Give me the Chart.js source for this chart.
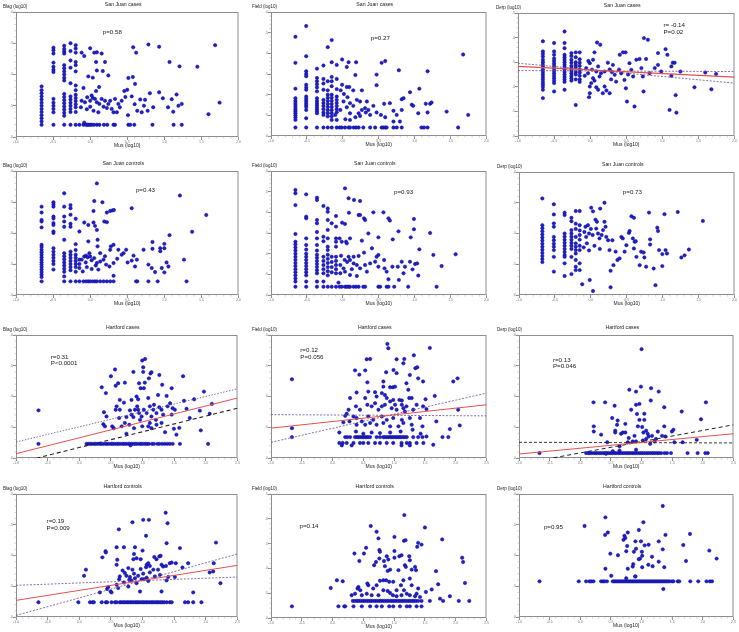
<!DOCTYPE html>
<html>
<head>
<meta charset="utf-8">
<script src="https://cdn.jsdelivr.net/npm/chart.js@4.4.0/dist/chart.umd.min.js"></script>
<style>
  body { margin: 0; background: #fff; width: 739px; height: 632px; position: relative; overflow: hidden; }
  canvas { position: absolute; }
</style>
</head>
<body>
<script>
// values are in tick units: x 0..nx, y 0..ny
// cols: [x, y, y, ...]  rows: [y, x, x, ...]  pts: x, y, x, y ...

// San Juan cases - Blag
const p1Cols = [
  [0.69, 0.39,0.5,0.6,0.7,0.8,0.9,1.0,1.1,1.2,1.3,1.4,1.5,1.62],
  [1.01, 2.86,2.78,2.67,2.38,2.25,2.15,2.08,1.22,1.1,1.0,0.9,0.79,0.39],
  [1.30, 2.92,2.82,2.74,2.67,2.30,2.2,2.1,2.0,1.9,1.81,1.38,1.28,1.18,1.08,0.98,0.88,0.78,0.68,0.39],
  [1.47, 3.0,2.75,2.45,2.22,1.72,1.3,1.2,1.1,1.0,0.9,0.8,0.39],
  [1.61, 2.94,2.83,2.7,2.4,2.3,2.1,1.65,1.5,1.35,1.25,1.15,1.05,0.95,0.8,0.39]
];
const p1Rows = [[0.39, 1.71,1.82,1.89,1.93,1.95,2.00,2.04,2.10,2.18,2.25,2.37,2.46,2.63,2.67,3.03,3.08,3.19,3.68,4.25,4.47]];
const p1Pts = [1.77,2.70, 1.84,2.59, 2.0,2.84, 2.11,2.70, 2.18,2.71, 2.31,2.67, 2.16,2.40, 2.18,2.13, 2.34,2.11, 2.40,2.40, 2.49,1.97, 1.95,1.94, 2.07,1.90, 1.82,1.57, 2.24,1.60,
  3.16,2.87, 3.24,2.70, 3.57,2.96, 3.86,2.89, 4.14,2.40, 4.41,2.26, 4.89,2.25, 5.37,2.94, 5.49,1.10, 5.19,0.73, 3.03,1.89, 3.15,1.92, 3.21,1.70, 2.92,1.47, 3.0,1.51,
  3.35,1.20, 3.48,1.19, 3.61,1.40, 3.70,0.95, 3.86,1.43, 3.96,1.24, 4.10,0.95, 4.20,1.21, 4.33,1.36, 4.38,1.00, 4.47,1.06, 4.24,0.81, 3.39,0.79, 3.27,0.84, 3.55,0.84, 3.02,0.70,
  1.77,1.16, 1.86,1.11, 1.92,1.27, 2.0,1.16, 2.07,1.25, 2.13,1.22, 2.18,1.11, 2.25,1.06, 2.31,1.22, 2.40,1.16, 2.49,1.06, 2.54,1.16, 2.67,1.22, 2.76,1.06, 2.85,1.16, 2.63,0.79, 2.72,0.79,
  1.91,0.89, 2.0,0.97, 2.09,0.84, 2.22,0.79, 1.84,0.46, 1.75,0.95, 2.36,0.97, 2.45,0.93, 2.16,1.47, 2.04,1.33, 3.12,1.30, 3.20,1.05, 2.95,1.28, 3.45,1.0, 2.58,0.9, 2.80,0.95];

// San Juan cases - Field
const p2Cols = [
  [0.68, 4.80,3.54,2.29,1.83,1.7,1.6,1.5,1.4,1.3,1.2,1.1,1.0,0.9,0.78,0.41],
  [0.98, 5.32,3.86,3.13,3.0,2.89,2.48,2.35,2.24,1.91,1.8,1.7,1.6,1.5,1.4,1.26,0.86,0.41],
  [1.28, 3.26,2.81,2.65,2.5,2.35,2.16,1.83,1.7,1.6,1.5,1.4,1.3,1.2,1.1,0.41],
  [1.46, 3.41,2.76,2.54,2.24,1.75,1.6,1.45,1.3,1.14,1.02,0.41],
  [1.58, 4.30,2.65,2.21,2.0,1.85,1.7,1.55,1.4,1.25,1.1,0.95,0.41],
  [1.69, 4.64,3.57,2.86,2.65,2.41,2.0,1.85,1.7,1.55,1.4,1.25,1.1,0.95,0.78,0.41],
  [1.83, 3.44,2.76,2.27,1.91,1.75,1.6,1.45,1.3,1.15,0.78,0.41]
];
const p2Rows = [[0.41, 1.91,1.97,2.06,2.16,2.20,2.30,2.37,2.44,2.57,2.76,2.90,3.08,3.13,3.18,3.22,3.41,3.50,3.64,4.19,4.26,4.36,5.21]];
const p2Pts = [1.98,3.70, 2.11,3.34, 2.16,3.57, 2.37,3.57, 2.35,2.95, 1.98,2.48, 2.11,2.37, 2.18,2.37, 1.94,2.21, 2.29,2.21, 2.53,2.21, 2.03,2.03, 2.13,1.88, 2.02,1.67, 2.20,1.59, 2.29,1.46, 2.11,1.39,
  2.39,1.75, 2.48,1.67, 2.67,1.67, 2.62,1.35, 2.71,1.26, 2.85,1.46, 2.94,1.14, 3.06,1.02, 3.15,1.56, 3.31,1.59, 3.41,1.22, 3.50,1.02, 3.64,1.26, 2.94,2.97, 2.94,2.46, 3.08,3.54, 3.18,3.63,
  3.56,3.18, 3.64,1.78, 3.69,1.83, 3.87,2.12, 3.92,1.51, 3.96,1.46, 4.13,2.29, 4.10,1.10, 4.31,1.56, 4.36,3.13, 4.36,1.14, 4.43,1.56, 4.47,1.62, 4.89,1.18, 5.35,3.94, 5.49,1.02,
  2.76,1.02, 2.53,1.26, 1.93,1.26, 2.20,1.10, 2.44,1.10, 1.79,1.02, 2.07,0.81, 2.20,0.78, 2.35,0.91, 3.18,0.91, 3.41,0.70, 3.59,0.70, 2.48,0.97, 2.64,1.14];

// San Juan cases - Derp
const p3Cols = [
  [0.69, 3.85,3.44,3.34,3.23,3.10,3.0,2.9,2.8,2.7,2.6,2.5,2.4,2.3,2.2,2.1,2.0,1.88,1.54],
  [1.0, 3.78,3.44,3.3,3.15,3.05,2.95,2.85,2.75,2.65,2.55,2.45,2.35,2.25,2.15,1.81],
  [1.29, 4.25,3.78,3.57,3.30,3.2,3.1,3.0,2.9,2.8,2.7,2.6,2.5,2.4,2.3,2.2,1.88],
  [1.48, 3.37,3.25,3.1,2.98,2.85,2.75,2.65,2.55,2.45,2.35,2.25],
  [1.60, 3.4,3.2,3.0,2.9,2.8,2.6,2.5,2.3,1.26],
  [1.71, 3.4,3.12,2.98,2.85,2.7,2.58,2.45,2.3,2.2]
];
const p3Rows = [];
const p3Pts = [2.19,3.80, 2.28,3.71, 2.12,3.40, 2.08,3.10, 1.99,2.96, 1.89,2.76, 1.94,2.55, 1.99,2.01, 2.03,2.15, 2.08,2.35, 2.17,2.62, 2.22,2.83, 2.26,2.42, 2.40,2.62, 2.49,2.98, 2.54,2.71,
  2.63,2.89, 2.68,2.49, 2.72,2.21, 2.35,1.74, 2.45,1.85, 1.99,1.74, 1.97,1.58, 2.17,1.98, 2.22,1.88, 2.40,2.01, 2.54,1.74, 2.58,2.30, 2.82,3.30, 2.91,3.40, 2.98,3.40, 2.86,2.55,
  2.95,2.28, 2.99,1.94, 3.02,1.40, 3.09,2.96, 3.14,2.69, 3.19,2.42, 3.23,1.20, 3.28,3.10, 3.37,3.13, 3.42,2.76, 3.46,2.42, 3.48,1.81, 3.49,3.98, 3.60,3.91, 3.55,3.13, 3.65,2.55,
  3.79,2.76, 3.88,3.37, 3.88,2.89, 3.97,2.62, 4.09,3.53, 4.14,3.30, 4.25,2.83, 4.29,2.98, 4.34,2.98, 4.25,2.45, 4.37,1.66, 4.20,1.06, 4.39,0.95, 4.50,2.62, 4.89,1.98, 5.19,2.58,
  5.36,1.90, 5.49,2.52, 1.85,2.45, 2.05,2.70, 2.30,2.55, 2.12,2.25, 1.95,3.05, 2.60,2.60, 2.80,2.70, 3.05,2.50];
const p3Fit = [0, 2.83, 6, 2.39];
const p3Ci1 = [0, 2.96, 6, 2.15];
const p3Ci2 = [0, 2.66, 6, 2.62];

// San Juan controls - Blag
const p4Cols = [
  [0.69, 2.85,2.66,2.42,2.37,2.18,1.62,1.55,1.46,1.38,1.3,1.22,1.14,1.06,0.98,0.9,0.82,0.74,0.66,0.58,0.44],
  [1.01, 2.99,2.92,2.85,2.53,2.47,2.32,2.26,2.05,2.0,1.51,1.4,1.3,1.2,1.1,1.0,0.82],
  [1.30, 3.28,2.85,2.53,2.37,2.2,1.78,1.35,1.25,1.15,1.05,0.95,0.85,0.75,0.6,0.44],
  [1.47, 2.9,2.8,2.59,2.3,2.2,1.4,1.3,1.2,1.1,1.0,0.9,0.8,0.44],
  [1.61, 2.46,1.64,1.45,1.3,1.2,1.1,1.0,0.9,0.75,0.44],
  [1.71, 2.05,1.14,1.0,0.87,0.44]
];
const p4Rows = [[0.44, 1.82,1.89,1.95,2.0,2.07,2.13,2.18,2.27,2.36,2.45,2.54,2.63,3.24,3.27,3.57,3.82,4.60]];
const p4Pts = [2.18,3.60, 2.11,3.03, 2.33,2.99, 2.09,2.71, 1.84,2.34, 1.95,2.26, 2.09,2.34, 2.13,2.23, 2.18,2.10, 1.95,1.73, 2.2,1.78, 2.2,1.57, 2.38,2.37, 2.45,2.35, 2.45,2.66, 2.54,2.71,
  2.60,2.73, 2.64,2.74, 3.12,2.80, 2.56,1.57, 2.63,1.62, 2.54,1.46, 2.76,1.46, 2.85,1.30, 2.90,1.35, 2.97,1.46, 3.17,1.27, 3.26,1.14, 3.44,1.46, 3.57,0.98, 3.66,0.87, 3.68,1.49,
  3.68,1.71, 3.75,0.74, 3.89,1.51, 3.89,1.41, 3.93,0.87, 4.0,1.65, 4.0,1.51, 4.06,1.05, 4.11,0.92, 4.0,0.73, 4.14,1.93, 4.42,3.21, 4.53,1.14, 4.75,2.04, 5.13,2.58,
  1.77,1.14, 1.84,1.24, 1.89,1.27, 1.93,1.22, 2.0,1.24, 2.04,1.12, 2.11,1.19, 2.18,1.03, 2.27,1.08, 2.36,1.14, 2.43,0.98, 2.52,0.92, 2.63,1.03, 2.73,1.17, 3.01,1.05, 3.12,1.11,
  3.21,0.92, 1.91,0.90, 2.04,0.84, 2.22,0.82, 2.63,0.62, 1.80,0.76, 2.27,1.35, 1.88,1.05, 2.15,0.95, 2.40,1.25, 1.98,1.35];

// San Juan controls - Field
const p5Cols = [
  [0.68, 5.08,4.92,4.35,2.95,2.58,2.45,2.3,2.15,2.0,1.85,1.7,1.55,1.4,1.25,1.1,0.95,0.8,0.65,0.4],
  [0.98, 4.87,3.79,3.71,2.74,2.42,2.2,2.0,1.85,1.7,1.55,1.4,1.25,1.1,0.95,0.65,0.4],
  [1.28, 4.71,4.6,3.63,3.47,3.05,2.74,2.42,2.15,1.95,1.8,1.65,1.5,1.35,1.2,1.05,0.65,0.4],
  [1.46, 4.31,2.82,2.6,1.85,1.65,1.45,1.25,1.05,0.65,0.4],
  [1.58, 4.19,4.03,3.63,3.15,2.74,2.34,2.18,1.95,1.75,1.55,1.35,1.15,0.95,0.4],
  [1.69, 3.47,1.85,1.6,1.35,1.1,0.4],
  [1.81, 3.82,3.31,2.74,2.58,2.34,1.85,1.65,1.45,1.25,1.05,0.4]
];
const p5Rows = [[0.4, 1.91,1.97,2.06,2.11,2.16,2.20,2.30,2.37,2.44,2.57,2.62,2.99,3.04,3.22,3.27,3.43,3.82,4.61]];
const p5Pts = [2.06,5.16, 2.16,4.68, 2.31,4.60, 2.48,4.55, 2.17,3.98, 2.44,3.87, 2.48,3.87, 2.59,3.71, 2.62,3.63, 2.85,4.0, 3.13,4.0, 3.27,3.71, 3.31,3.60, 1.98,3.50, 2.06,3.44, 1.91,2.74,
  1.97,2.58, 2.09,2.58, 2.20,2.74, 2.11,2.50, 2.53,2.63, 2.71,2.98, 2.99,2.79, 3.39,2.69, 3.55,3.08, 3.89,2.79, 3.98,3.18, 3.98,3.68, 4.43,3.0, 2.81,2.26, 2.99,1.94, 2.94,1.85,
  3.15,1.69, 2.59,2.05, 2.44,1.89, 2.30,1.85, 2.16,1.85, 2.20,1.69, 2.30,1.53, 2.39,1.45, 2.48,1.29, 2.62,1.45, 2.67,1.13, 2.76,1.53, 2.90,1.61, 2.99,1.37, 3.16,1.29, 3.22,1.13,
  3.27,0.76, 3.38,1.37, 3.53,1.37, 3.64,1.61, 3.69,1.05, 3.73,1.37, 3.87,1.61, 3.94,1.24, 4.01,1.50, 4.07,1.53, 4.10,0.94, 4.13,2.21, 4.52,1.94, 4.75,1.40, 5.14,1.97, 3.56,0.73,
  1.93,1.45, 2.02,1.29, 1.93,1.05, 2.06,1.13, 2.20,0.97, 1.88,0.60, 2.39,0.92, 2.05,1.70, 2.25,1.25, 1.95,1.90, 2.12,1.60];

// San Juan controls - Derp
const p6Cols = [
  [0.65, 3.14,2.27,2.17,2.07,1.97,1.87,1.77,1.67,1.57,1.47,1.37,1.27,1.17,1.07],
  [0.97, 2.95,2.62,2.33,2.22,1.89,1.78,1.67,1.57,1.46,1.24,0.76],
  [1.27, 2.68,2.6,2.0,1.9,1.8,1.7,1.6,1.5,1.4,1.3,1.24,1.03,0.62],
  [1.46, 2.51,2.4,2.11,2.0,1.9,1.8,1.7,1.6,1.5,1.24,0.68],
  [1.58, 2.73,2.32,2.15,1.89,1.68,1.57,1.46,1.35,1.14,0.92,0.81],
  [1.69, 2.73,2.27,2.1,1.95,1.8,1.6,1.46,1.03,0.81],
  [1.76, 0.35]
];
const p6Rows = [];
const p6Pts = [1.85,2.22, 1.92,2.27, 1.95,2.0, 1.87,1.89, 1.89,1.68, 1.97,0.49, 2.01,2.84, 2.06,2.72, 2.06,0.13, 2.13,2.45, 2.15,2.16, 2.17,2.38, 2.20,2.0, 2.24,1.84, 2.26,2.81, 2.34,2.11,
  2.38,2.38, 2.41,2.22, 2.38,3.0, 2.43,1.89, 2.48,1.78, 2.52,1.46, 2.55,0.79, 2.55,0.25, 2.60,1.78, 2.63,0.97, 2.69,1.41, 2.74,1.14, 2.80,1.19, 2.85,1.89, 2.89,1.84, 2.94,1.41,
  2.99,1.62, 3.06,2.02, 3.08,2.08, 3.13,2.56, 3.20,2.51, 3.17,1.84, 3.22,1.73, 3.20,1.51, 3.27,1.24, 3.25,1.75, 3.36,0.97, 3.40,1.41, 3.47,1.38, 3.49,1.22, 3.54,0.92, 3.62,2.68,
  3.65,1.81, 3.65,1.64, 3.75,0.86, 3.80,0.32, 3.85,2.19, 3.87,2.08, 3.90,1.46, 3.99,0.94, 3.99,1.33, 4.05,2.63, 4.08,1.46, 4.12,1.35, 4.42,2.70, 4.52,1.22, 4.61,1.29, 4.73,1.48,
  5.12,2.41, 1.80,1.55, 1.95,1.45, 2.05,1.95, 2.10,1.60, 2.30,1.95, 2.25,1.50, 1.82,2.05, 2.00,2.15];

// Hartford cases - Blag
const p7Cols = [];
const p7Rows = [[0.46, 0.71,2.23,2.29,2.34,2.40,2.47,2.52,2.58,2.65,2.70,2.76,2.83,2.88,2.94,3.01,3.06,3.12,3.19,3.24,3.30,3.37,3.42,3.48,3.55,3.60,3.66,3.73,3.78,3.84,3.91,3.96,4.02,4.09,4.14,4.20,4.30,4.36,4.47,4.53,4.62,4.70,4.78,4.86,4.95,5.18,6.07]];
const p7Pts = [0.71,1.55, 3.62,0.41, 2.71,2.30, 2.84,2.11, 3.0,2.66, 3.13,2.88, 3.15,2.35, 3.23,2.43, 3.44,2.45, 3.71,2.80, 3.99,3.17, 4.08,3.22, 4.02,2.95, 4.02,2.80, 3.89,2.43, 3.94,2.27,
  4.04,2.27, 4.07,2.45, 4.20,2.59, 4.25,2.75, 4.28,2.79, 4.53,2.70, 4.62,2.38, 4.92,2.27, 5.28,2.66, 5.94,2.16, 6.19,1.76, 5.63,1.91, 5.31,1.86, 5.39,1.60, 5.81,1.54, 5.49,1.30,
  6.12,1.44, 5.84,0.90, 5.16,0.98, 5.07,0.76, 4.99,0.95, 4.71,0.84, 3.49,0.79, 2.76,1.10, 2.81,1.03, 3.04,1.03, 3.09,0.97, 3.41,1.80, 3.15,1.57, 3.18,1.68, 3.28,1.57, 2.78,1.49,
  2.86,1.35, 3.26,1.30, 3.44,1.14, 3.49,1.33, 3.60,1.55, 3.65,1.41, 3.71,1.33, 3.76,1.57, 3.81,2.0, 3.86,1.91, 3.83,1.68, 3.89,1.46, 3.92,1.24, 3.97,1.35, 4.04,1.57, 4.13,1.46,
  4.18,1.95, 4.23,1.68, 4.23,1.14, 4.28,1.35, 4.34,1.57, 4.36,1.73, 4.42,1.24, 4.44,1.46, 4.49,2.05, 4.53,1.65, 4.60,1.57, 4.65,1.41, 4.76,2.02, 4.79,1.68, 4.87,1.78, 4.92,1.41,
  4.95,1.62, 5.02,1.57, 4.18,1.03, 3.99,1.03, 3.73,0.97, 3.34,1.03, 3.58,1.08, 4.28,0.97, 4.44,1.08, 4.60,1.14, 3.28,1.89, 3.65,1.89, 3.86,1.57];
const p7Fit = [0, 0.14, 7, 1.95];
const p7Ci1 = [0, 0.52, 7, 2.25];
const p7Ci2 = [0, -0.17, 7, 1.62];

// Hartford cases - Field
const p8Cols = [];
const p8Rows = [
  [0.68, 0.68,2.41,2.48,2.57,2.73,2.79,2.84,2.89,2.95,3.00,3.06,3.11,3.16,3.22,3.43,3.54,3.65,3.70,3.76,3.81,3.87,3.92,3.97,4.03,4.08,4.14,4.19,4.24,4.30,4.35,4.41,4.62,4.78,4.92],
  [0.49, 2.22,2.33,2.46,2.68,2.89,3.00,3.16,3.38,3.54,3.76,3.97,4.24,4.41,4.51,4.73,4.95],
  [0.41, 2.30,2.62,4.24,4.51]
];
const p8Pts = [0.68,2.56, 0.68,0.97, 3.78,3.71, 3.81,3.57, 5.16,3.58, 4.64,3.34, 4.08,3.21, 4.33,3.22, 4.30,3.08, 3.11,3.21, 3.22,3.22, 3.06,2.85, 2.73,2.85, 2.87,2.71, 3.74,2.79, 3.98,2.86,
  4.08,2.76, 4.69,2.92, 4.75,2.95, 4.51,2.70, 4.78,2.59, 4.94,2.49, 5.92,2.49, 6.06,2.59, 3.13,2.46, 3.65,2.49, 3.65,2.32, 3.87,2.30, 3.96,2.30, 4.03,2.32, 3.70,2.05, 4.40,2.43,
  4.46,2.22, 3.60,2.11, 3.38,2.14, 2.78,2.13, 3.16,2.16, 2.57,1.95, 3.06,1.95, 3.43,2.0, 3.76,1.95, 3.97,1.89, 4.17,1.89, 4.25,1.87, 4.49,1.95, 4.57,1.95, 5.02,1.91, 5.32,2.02,
  2.76,1.68, 2.89,1.57, 3.13,1.73, 3.27,1.68, 3.38,1.78, 3.49,1.57, 3.60,1.68, 3.70,1.73, 3.87,1.84, 3.92,1.62, 4.03,1.73, 4.08,1.57, 4.25,1.73, 4.30,1.62, 4.35,1.51, 4.40,1.68,
  4.62,1.57, 4.73,1.73, 4.94,1.68, 5.05,1.59, 2.52,1.57, 2.46,1.44, 2.41,1.37, 2.68,1.35, 2.78,1.30, 2.95,1.19, 3.16,1.35, 3.32,1.24, 3.60,1.35, 3.76,1.24, 3.97,1.30, 4.25,1.24,
  4.51,1.30, 4.84,1.30, 2.55,1.19, 2.35,1.16, 2.78,1.08, 3.06,1.08, 3.22,1.14, 3.43,1.08, 3.65,1.14, 3.87,1.03, 4.14,1.03, 4.30,1.14, 4.57,1.08, 4.92,1.03, 5.37,1.19, 5.81,0.94,
  6.13,1.06, 6.08,1.57, 2.22,0.83, 2.76,0.86, 3.0,0.79, 3.27,0.83, 3.54,0.81, 3.87,0.83, 4.21,0.86, 4.60,0.92, 4.86,0.79, 5.05,0.70, 5.57,0.68, 5.76,0.68, 5.27,0.43];
const p8Fit = [0, 0.97, 7, 1.73];
const p8Ci1 = [0, 1.41, 7, 1.37];
const p8Ci2 = [0, 0.51, 7, 2.11];

// Hartford cases - Derp
const p9Cols = [];
const p9Rows = [[0.16, 0.67,2.19,2.26,2.31,2.37,2.44,2.50,2.55,2.62,2.68,2.75,2.81,2.87,2.93,3.00,3.05,3.12,3.18,3.25,3.30,3.37,3.43,3.50,3.56,3.62,3.69,3.75,3.81,3.87,3.94,4.00,4.06,4.13,4.19,4.25,4.32,4.38,4.44,4.51,4.57,4.64,4.75,4.83,4.96,5.50,5.83,6.08,6.16]];
const p9Pts = [4.0,3.54, 3.60,2.22, 3.82,2.16, 3.98,2.32, 4.31,2.27, 4.56,2.16, 2.43,1.81, 2.81,1.81, 3.12,1.70, 4.30,1.87, 3.66,1.57, 3.82,1.73, 3.93,1.76, 3.85,1.43, 4.09,1.44, 4.09,1.24,
  3.93,1.24, 4.74,1.65, 5.31,1.51, 5.94,1.26, 6.10,1.81, 3.04,1.30, 3.22,1.22, 3.20,1.08, 2.44,1.03, 2.44,0.86, 2.68,0.76, 3.14,0.89, 3.14,0.83, 3.33,0.79, 3.39,0.83, 3.47,0.83,
  3.47,1.11, 3.58,0.65, 3.77,0.72, 3.88,1.03, 4.02,1.01, 4.06,0.83, 4.15,0.89, 4.20,0.79, 4.23,0.70, 4.34,0.72, 4.47,0.62, 4.53,0.86, 4.67,0.72, 4.74,1.03, 4.78,0.70, 4.99,0.86,
  5.04,0.92, 2.88,0.51, 3.28,0.38, 3.55,0.51, 3.71,0.54, 3.82,0.54, 4.04,0.57, 4.15,0.62, 4.28,0.46, 4.42,0.54, 5.07,0.51, 5.34,0.51, 5.80,0.59, 3.82,0.27, 3.28,0.24, 3.06,0.22, 2.84,0.14];
const p9Fit = [0, 0.13, 7, 0.79];
const p9Ci1 = [0, 0.51, 7, 0.49];
const p9Ci2 = [0, -0.2, 7, 1.08];

// Hartford controls - Blag
const p10Cols = [];
const p10Rows = [[0.48, 0.71,1.97,2.34,2.42,2.46,2.71,2.84,2.88,3.02,3.13,3.18,3.28,3.33,3.39,3.44,3.50,3.55,3.61,3.66,3.72,3.78,3.83,3.88,3.94,4.00,4.05,4.11,4.16,4.22,4.28,4.33,4.39,4.45,4.50,4.56,4.62,4.68,4.76,4.86,4.92,5.34,5.44,5.60,5.86]];
const p10Pts = [4.73,3.39, 4.79,3.05, 4.02,3.16, 4.20,3.16, 3.68,3.08, 3.25,2.85, 4.11,2.64, 4.76,2.40, 5.18,2.24, 6.32,2.42, 3.18,2.27, 3.41,2.27, 2.83,2.14, 2.84,2.10, 2.73,1.94, 3.18,1.70,
  3.20,1.86, 3.76,2.27, 3.73,2.05, 3.71,1.88, 3.81,1.91, 4.0,2.16, 3.94,1.88, 4.13,1.70, 4.18,1.75, 4.23,1.66, 4.37,1.95, 4.44,1.88, 4.53,1.97, 4.57,1.99, 4.60,1.70, 4.65,1.64,
  4.74,1.66, 4.86,1.75, 4.92,1.77, 5.05,1.75, 5.26,1.61, 5.44,1.75, 6.25,1.75, 6.12,1.45, 6.23,1.48, 6.46,1.10, 5.60,0.80, 5.02,1.30, 2.21,1.54, 2.15,1.34, 2.65,0.80, 2.88,0.91,
  2.91,0.97, 2.99,0.83, 3.02,0.80, 3.18,1.05, 3.28,1.32, 3.26,1.23, 3.37,1.51, 3.44,1.43, 3.49,1.34, 3.55,1.59, 3.60,1.30, 3.65,1.19, 3.68,1.54, 3.73,1.41, 3.76,1.26, 3.81,1.10,
  3.86,1.34, 3.92,0.83, 3.94,1.56, 3.97,1.23, 4.02,1.41, 4.04,1.23, 4.11,1.62, 4.18,1.17, 4.23,1.45, 4.34,1.54, 4.39,1.32, 4.49,1.54, 4.55,1.37, 4.60,0.83, 4.76,1.19, 4.81,1.30,
  3.55,0.99, 3.41,1.12, 3.58,1.21, 3.23,0.94, 4.13,1.28];
const p10Fit = [0, 0.54, 7, 1.68];
const p10Ci1 = [0, 1.03, 7, 1.30];
const p10Ci2 = [0, 0.05, 7, 2.05];

// Hartford controls - Field
const p11Cols = [];
const p11Rows = [
  [0.69, 2.66,2.73,2.80,2.86,2.92,2.99,3.05,3.12,3.18,3.24,3.30,3.37,3.43,3.50,3.56,3.62,3.68,3.75,3.81,3.88,3.94,4.00,4.06,4.13,4.19,4.26,4.32,4.38,4.45,4.51,4.58,4.64,4.70,4.78,4.89,5.16,5.59,6.10,6.44],
  [0.47, 0.68,2.19,2.38,2.41,2.68,2.95,3.22,3.43,3.60,3.84,3.97,4.19,4.41,4.51,4.73,4.89]
];
const p11Pts = [1.94,1.21, 2.14,1.52, 2.33,1.48, 4.33,4.15, 3.24,3.71, 3.43,3.48, 3.49,3.21, 5.0,3.65, 5.56,3.17, 4.01,3.27, 4.32,3.11, 4.37,3.14, 4.78,3.03, 4.75,2.87, 4.89,2.96, 3.09,2.83,
  2.71,2.60, 3.02,2.60, 2.87,2.30, 3.35,2.13, 3.41,2.26, 3.52,2.74, 3.54,2.67, 3.52,2.40, 3.67,2.30, 3.70,2.09, 3.76,2.49, 3.81,2.36, 4.01,2.70, 4.01,2.43, 4.17,2.49, 4.24,2.53,
  4.14,1.93, 3.87,1.95, 3.79,1.90, 4.35,2.13, 4.38,2.06, 4.49,2.49, 4.51,2.33, 4.57,1.95, 4.68,2.06, 4.71,1.93, 4.51,1.59, 5.36,1.89, 5.43,1.36, 6.21,2.43, 6.24,2.26, 6.30,1.41,
  5.81,0.88, 5.49,0.78, 5.03,1.05, 5.22,1.15, 4.78,1.19, 4.57,1.32, 4.30,1.52, 4.22,1.32, 4.08,1.12, 3.97,1.46, 3.84,1.46, 3.74,1.52, 3.65,1.52, 3.54,1.50, 3.43,1.32, 3.32,1.19,
  3.16,1.32, 3.13,1.39, 2.84,1.25, 2.81,1.19, 2.90,1.12, 2.73,0.98, 2.62,0.92, 2.95,0.92, 3.11,0.98, 3.27,0.92, 3.49,0.92, 3.65,1.12, 3.79,1.09, 3.87,1.01, 3.96,0.92, 4.08,0.88,
  4.24,0.92, 4.32,1.12, 4.41,0.98, 4.51,0.92, 4.73,0.98, 4.84,0.85, 4.68,0.88];

// Hartford controls - Derp
const p12Cols = [];
const p12Rows = [[1.16, 0.67,1.95,2.19,2.30,2.36,2.43,2.68,2.74,2.79,2.87,3.06,3.11,3.16,3.21,3.26,3.31,3.36,3.41,3.46,3.51,3.56,3.61,3.66,3.71,3.76,3.81,3.86,3.91,3.96,4.01,4.06,4.11,4.16,4.21,4.26,4.31,4.36,4.41,4.46,4.51,4.56,4.61,4.66,4.71,4.76,4.81,4.86,4.91,4.99,5.04,5.18,5.23,5.59,5.85,6.12,6.23,6.30]];
const p12Pts = [3.50,1.26, 3.80,1.32, 4.71,0.91, 4.69,3.61, 2.82,3.24, 2.14,2.96, 4.06,3.08, 3.91,2.83, 2.81,2.67, 2.90,2.75, 3.55,2.75, 3.44,2.64, 3.47,2.57, 3.41,2.51, 4.78,2.67, 5.58,2.70,
  3.80,2.46, 3.98,2.46, 4.23,2.35, 4.56,2.46, 3.53,2.31, 3.82,2.22, 4.10,2.33, 4.69,2.20, 5.36,2.34, 6.21,2.16, 3.50,2.14, 3.75,2.12, 4.01,2.12, 4.02,1.99, 2.98,2.06, 3.23,2.01,
  3.95,1.90, 3.91,1.88, 4.34,1.96, 4.56,1.80, 5.45,1.82, 6.45,1.90, 3.73,1.72, 3.71,1.64, 4.22,1.70, 4.36,1.65, 4.02,1.62, 2.82,1.57, 4.74,1.62, 3.55,1.57, 3.01,1.34, 3.79,1.32];

const RED = 'rgb(226,80,80)';
const PURPLE = 'rgb(105,75,150)';
const BLACK = '#222';

const panels = [
  {title: 'San Juan cases', ylab: 'Blag (log10)', box: [16, 12, 239, 137], nx: 6, ny: 4, yo: 13, cols: p1Cols, rows: p1Rows, pts: p1Pts, notes: ['p=0.58'], nf: [0.39, 0.163, 7]},
  {title: 'San Juan cases', ylab: 'Field (log10)', box: [271, 12, 487, 136], nx: 6, ny: 6, yo: 19, cols: p2Cols, rows: p2Rows, pts: p2Pts, notes: ['p=0.27'], nf: [0.463, 0.209, 7]},
  {title: 'San Juan cases', ylab: 'Derp (log10)', box: [518, 13, 735, 136], nx: 6, ny: 5, yo: 22, cols: p3Cols, rows: p3Rows, pts: p3Pts, notes: ['r= -0.14', 'P=0.02'], nf: [0.672, 0.098, 7.3],
    lines: [[p3Fit, RED, [], 1.2], [p3Ci1, PURPLE, [2, 1.5], 0.8], [p3Ci2, PURPLE, [2, 1.5], 0.8]]},
  {title: 'San Juan controls', ylab: 'Blag (log10)', box: [16, 171, 239, 295], nx: 6, ny: 4, yo: 13, cols: p4Cols, rows: p4Rows, pts: p4Pts, notes: ['p=0.43'], nf: [0.539, 0.153, 7]},
  {title: 'San Juan controls', ylab: 'Field (log10)', box: [271, 171, 487, 295], nx: 6, ny: 6, yo: 19, cols: p5Cols, rows: p5Rows, pts: p5Pts, notes: ['p=0.93'], nf: [0.571, 0.175, 7]},
  {title: 'San Juan controls', ylab: 'Derp (log10)', box: [519, 172, 735, 295], nx: 6, ny: 4, yo: 22, cols: p6Cols, rows: p6Rows, pts: p6Pts, notes: ['p=0.73'], nf: [0.482, 0.167, 7]},
  {title: 'Hartford cases', ylab: 'Blag (log10)', box: [16, 335, 238, 458], nx: 7, ny: 4, yo: 13, cols: p7Cols, rows: p7Rows, pts: p7Pts, notes: ['r=0.31', 'P<0.0001'], nf: [0.157, 0.184, 5.8],
    lines: [[p7Fit, RED, [], 1], [p7Ci1, PURPLE, [1.5, 1.5], 0.8], [p7Ci2, BLACK, [4, 3], 1.1]]},
  {title: 'Hartford cases', ylab: 'Field (log10)', box: [271, 335, 487, 458], nx: 7, ny: 4, yo: 19, cols: p8Cols, rows: p8Rows, pts: p8Pts, notes: ['r=0.12', 'P=0.056'], nf: [0.136, 0.127, 6.2],
    lines: [[p8Fit, RED, [], 1], [p8Ci1, PURPLE, [2, 1.5], 0.8], [p8Ci2, PURPLE, [2, 1.5], 0.8]]},
  {title: 'Hartford cases', ylab: 'Derp (log10)', box: [519, 335, 734, 458], nx: 7, ny: 4, yo: 22, cols: p9Cols, rows: p9Rows, pts: p9Pts, notes: ['r=0.13', 'P=0.046'], nf: [0.158, 0.203, 6.2],
    lines: [[p9Fit, RED, [], 1], [p9Ci1, BLACK, [3, 2], 0.9], [p9Ci2, BLACK, [4, 3], 1]]},
  {title: 'Hartford controls', ylab: 'Blag (log10)', box: [16, 494, 238, 617], nx: 7, ny: 4, yo: 13, cols: p10Cols, rows: p10Rows, pts: p10Pts, notes: ['r=0.19', 'P=0.009'], nf: [0.138, 0.219, 7.3],
    lines: [[p10Fit, RED, [], 1], [p10Ci1, PURPLE, [2, 1.5], 0.8], [p10Ci2, PURPLE, [2, 1.5], 0.8]]},
  {title: 'Hartford controls', ylab: 'Field (log10)', box: [271, 494, 487, 618], nx: 7, ny: 5, yo: 19, cols: p11Cols, rows: p11Rows, pts: p11Pts, notes: ['p=0.14'], nf: [0.132, 0.264, 7]},
  {title: 'Hartford controls', ylab: 'Derp (log10)', box: [519, 494, 734, 617], nx: 7, ny: 4, yo: 22, cols: p12Cols, rows: p12Rows, pts: p12Pts, notes: ['p=0.95'], nf: [0.116, 0.27, 7]}
];

function toPoints(cols, rows, pts) {
  const out = [];
  cols.forEach(c => c.slice(1).forEach(v => out.push({x: c[0], y: v})));
  rows.forEach(r => r.slice(1).forEach(v => out.push({x: v, y: r[0]})));
  for (let i = 0; i < pts.length; i += 2) out.push({x: pts[i], y: pts[i + 1]});
  return out;
}

const FONT = '"Liberation Sans", Arial, sans-serif';

// box, minor ticks and all the panel texts
const decor = {
  id: 'decor',
  beforeDatasetsDraw(chart, args, o) {
    const {ctx, chartArea: a} = chart;
    ctx.save();
    ctx.strokeStyle = '#8e8e8e';
    ctx.lineWidth = 1;
    ctx.strokeRect(a.left + 0.5, a.top + 0.5, a.width - 1, a.height - 1);
    ctx.strokeStyle = '#b5b5b5';
    ctx.lineWidth = 0.6;
    const xs = chart.scales.x, ys = chart.scales.y;
    for (let i = 0; i <= o.nx * 5; i++) {
      const px = xs.getPixelForValue(i / 5);
      ctx.beginPath(); ctx.moveTo(px, a.bottom); ctx.lineTo(px, a.bottom + 1.6); ctx.stroke();
    }
    for (let i = 0; i <= o.ny * 5; i++) {
      const py = ys.getPixelForValue(i / 5);
      ctx.beginPath(); ctx.moveTo(a.left, py); ctx.lineTo(a.left - 1.6, py); ctx.stroke();
    }
    ctx.restore();
  },
  afterDraw(chart, args, o) {
    const {ctx, chartArea: a} = chart;
    ctx.save();
    ctx.fillStyle = '#222';
    ctx.textBaseline = 'middle';
    ctx.textAlign = 'center';
    ctx.font = '5.2px ' + FONT;
    ctx.fillText(o.title, a.left + a.width / 2 - 4, a.top - 7);
    ctx.font = '5px ' + FONT;
    ctx.fillText('Mus (log10)', a.left + a.width / 2, a.bottom + 8.5);
    ctx.textAlign = 'left';
    ctx.font = '4.5px ' + FONT;
    ctx.fillText(o.ylab, a.left - o.yo, a.top - 5.5);
    ctx.font = '6.2px ' + FONT;
    o.notes.forEach((t, i) => {
      ctx.fillText(t, a.left + o.nf[0] * a.width, a.top + o.nf[1] * a.height + i * o.nf[2]);
    });
    ctx.restore();
  }
};

panels.forEach(p => {
  const [L, T, R, B] = p.box;
  const cv = document.createElement('canvas');
  cv.width = R - L + 34;
  cv.height = B - T + 30;
  cv.style.left = (L - 30) + 'px';
  cv.style.top = (T - 18) + 'px';
  document.body.appendChild(cv);

  const datasets = [];
  (p.lines || []).forEach(([d, color, dash, w]) => {
    datasets.push({
      data: [{x: d[0], y: d[1]}, {x: d[2], y: d[3]}],
      showLine: true, borderColor: color, borderWidth: w, borderDash: dash,
      pointRadius: 0, clip: 0
    });
  });
  datasets.push({
    data: toPoints(p.cols, p.rows, p.pts),
    pointRadius: 1.7,
    pointStyle: 'circle',
    backgroundColor: 'rgb(30,30,215)',
    borderColor: 'rgb(15,15,130)',
    borderWidth: 0.5
  });

  const tickFont = {size: 3.5, family: FONT};
  new Chart(cv, {
    type: 'scatter',
    data: {datasets},
    options: {
      responsive: false,
      animation: false,
      devicePixelRatio: 1,
      layout: {padding: {left: 24, top: 18, right: 4, bottom: 6}},
      scales: {
        x: {
          min: 0, max: p.nx,
          ticks: {stepSize: 1, font: tickFont, color: '#777', padding: 0, maxRotation: 0,
            callback: v => (v * 0.5 - 1).toFixed(1)},
          grid: {drawOnChartArea: false, tickLength: 3, color: '#888'},
          border: {display: false},
          afterFit: s => { s.height = 6; }
        },
        y: {
          min: 0, max: p.ny,
          ticks: {stepSize: 1, font: tickFont, color: '#777', padding: 0,
            callback: v => (v * 0.5).toFixed(1)},
          grid: {drawOnChartArea: false, tickLength: 3, color: '#888'},
          border: {display: false},
          afterFit: s => { s.width = 6; }
        }
      },
      plugins: {
        legend: {display: false},
        tooltip: {enabled: false},
        decor: {title: p.title, ylab: p.ylab, yo: p.yo, notes: p.notes, nf: p.nf, nx: p.nx, ny: p.ny}
      }
    },
    plugins: [decor]
  });
});
</script>
</body>
</html>
